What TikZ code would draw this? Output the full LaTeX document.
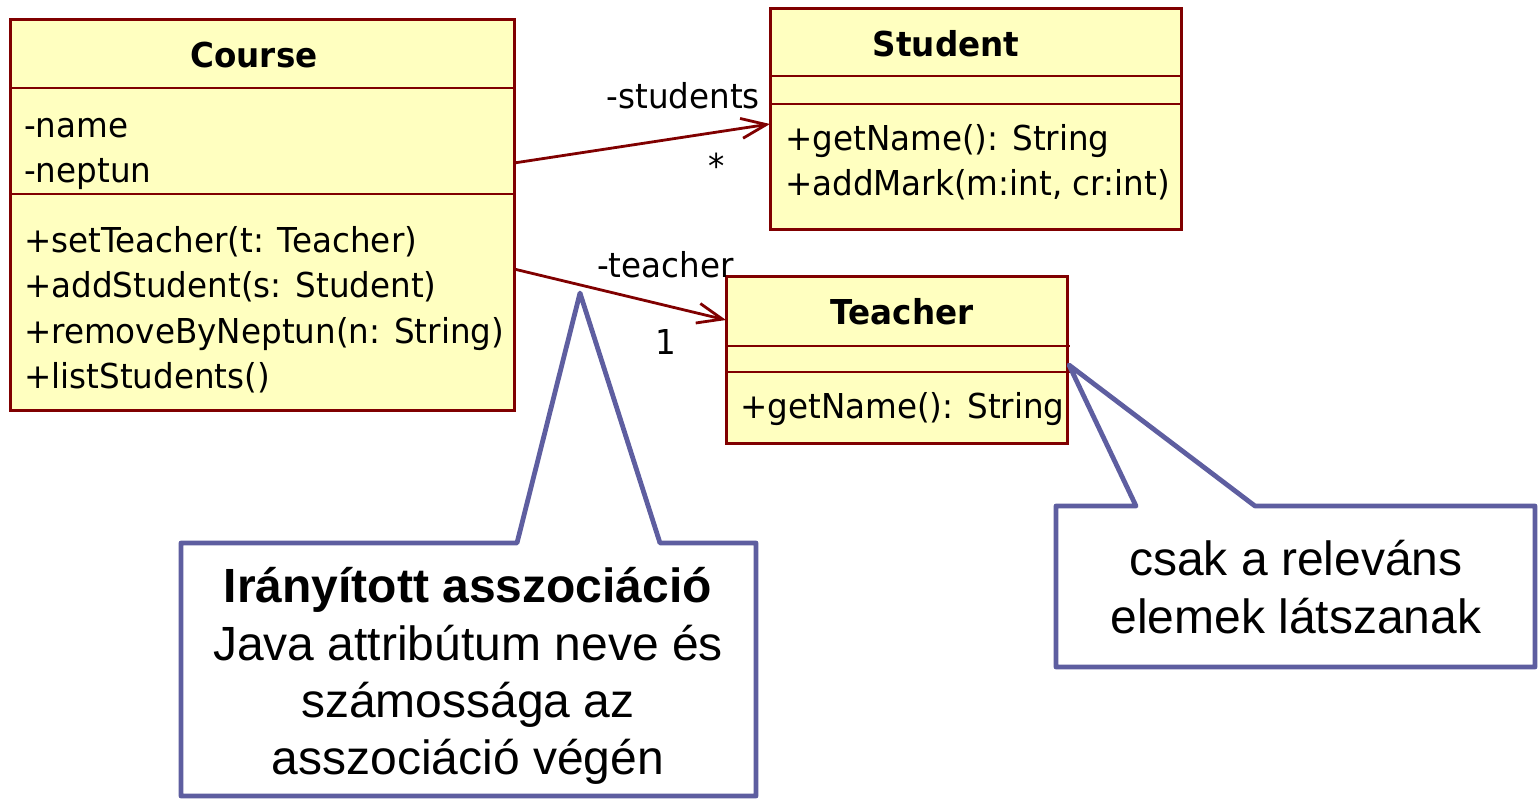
\documentclass[tikz,border=0pt]{standalone}
\usepackage{fontspec}
\newfontfamily\umlfont[FakeStretch=0.95]{DejaVu Sans}
\newfontfamily\notefont{Liberation Sans}
\usetikzlibrary{arrows.meta,calc}
\definecolor{umlred}{RGB}{128,0,0}
\definecolor{umlfill}{RGB}{255,255,192}
\definecolor{noteblue}{RGB}{94,94,160}
\begin{document}
\begin{tikzpicture}[x=1pt,y=-1pt,
  umlbox/.style={draw=umlred, fill=umlfill, line width=3pt, rectangle, inner sep=0pt, outer sep=0pt, anchor=north west},
  umlsep/.style={draw=umlred, line width=2.8pt},
  umltext/.style={font=\umlfont\fontsize{34.3}{41}\selectfont, inner sep=0pt, anchor=base west},
  umltitle/.style={font=\umlfont\bfseries\fontsize{34.3}{41}\selectfont, inner sep=0pt, anchor=base},
  assoc/.style={draw=umlred, line width=2.8pt, -{Straight Barb[length=25pt,width=20pt]}},
  note/.style={draw=noteblue, fill=white, line width=4.8pt, line join=round},
  notetext/.style={font=\notefont\fontsize{48}{58}\selectfont, inner sep=0pt, anchor=base},
]
\useasboundingbox (0,0) rectangle (1538,798);

% Course
\node[umlbox, minimum width=504pt, minimum height=391pt] (course) at (10,19) {};
\draw[umlsep] ($(course.north west)+(0,69)$) -- ($(course.north east)+(0,69)$);
\draw[umlsep] ($(course.north west)+(0,175)$) -- ($(course.north east)+(0,175)$);
\node[umltitle] (coursetitle) at (254,67) {Course};
\node[umltext] (cname) at (24,137) {-name};
\node[umltext] (cneptun) at (24,182) {-neptun};
\node[umltext] (cop1) at (24,252) {+setTeacher(t: Teacher)};
\node[umltext] (cop2) at (24,297) {+addStudent(s: Student)};
\node[umltext] (cop3) at (24,343) {+removeByNeptun(n: String)};
\node[umltext] (cop4) at (24,388) {+listStudents()};

% Student
\node[umlbox, minimum width=411pt, minimum height=221pt] (student) at (770,8) {};
\draw[umlsep] ($(student.north west)+(0,68)$) -- ($(student.north east)+(0,68)$);
\draw[umlsep] ($(student.north west)+(0,96)$) -- ($(student.north east)+(0,96)$);
\node[umltitle] (studenttitle) at (946,56) {Student};
\node[umltext] (sop1) at (785,150) {+getName(): String};
\node[umltext] (sop2) at (785,195) {+addMark(m:int, cr:int)};

% Teacher
\node[umlbox, minimum width=341pt, minimum height=167pt] (teacher) at (726,276) {};
\draw[umlsep] ($(teacher.north west)+(0,70)$) -- ($(teacher.north east)+(3,70)$);
\draw[umlsep] ($(teacher.north west)+(0,96)$) -- ($(teacher.north east)+(3,96)$);
\node[umltitle] (teachertitle) at (902,324) {Teacher};
\node[umltext] (top1) at (740,418) {+getName(): String};

% Associations
\draw[assoc] ($(course.north east)+(0,144)$) -- ($(student.north west)+(0,116)$);
\draw[assoc] ($(course.north east)+(0,250)$) -- ($(teacher.north west)+(0,44)$);
\node[umltext, anchor=base east] (lstudents) at (760,108) {-students};
\node[umltext, anchor=center] (mstudents) at (717,166) {*};
\node[umltext] (lteacher) at (597,277) {-teacher};
\node[umltext] (mteacher) at (655,354) {1};

% Callout 1
\draw[note] (181,543) -- (517,543) -- (580,293) -- (660,543) -- (756,543) -- (756,796) -- (181,796) -- cycle;
\node[notetext, font=\notefont\bfseries\fontsize{48}{58}\selectfont] (n1a) at (468,602) {Irányított asszociáció};
\node[notetext] (n1b) at (468,660) {Java attribútum neve és};
\node[notetext] (n1c) at (468,717) {számossága az};
\node[notetext] (n1d) at (468,774) {asszociáció végén};

% Callout 2
\draw[note] (1056,506) -- (1136,506) -- (1069,365) -- (1255,506) -- (1535,506) -- (1535,667) -- (1056,667) -- cycle;
\node[notetext] (n2a) at (1296,575) {csak a releváns};
\node[notetext] (n2b) at (1296,633) {elemek látszanak};
\end{tikzpicture}
\end{document}
